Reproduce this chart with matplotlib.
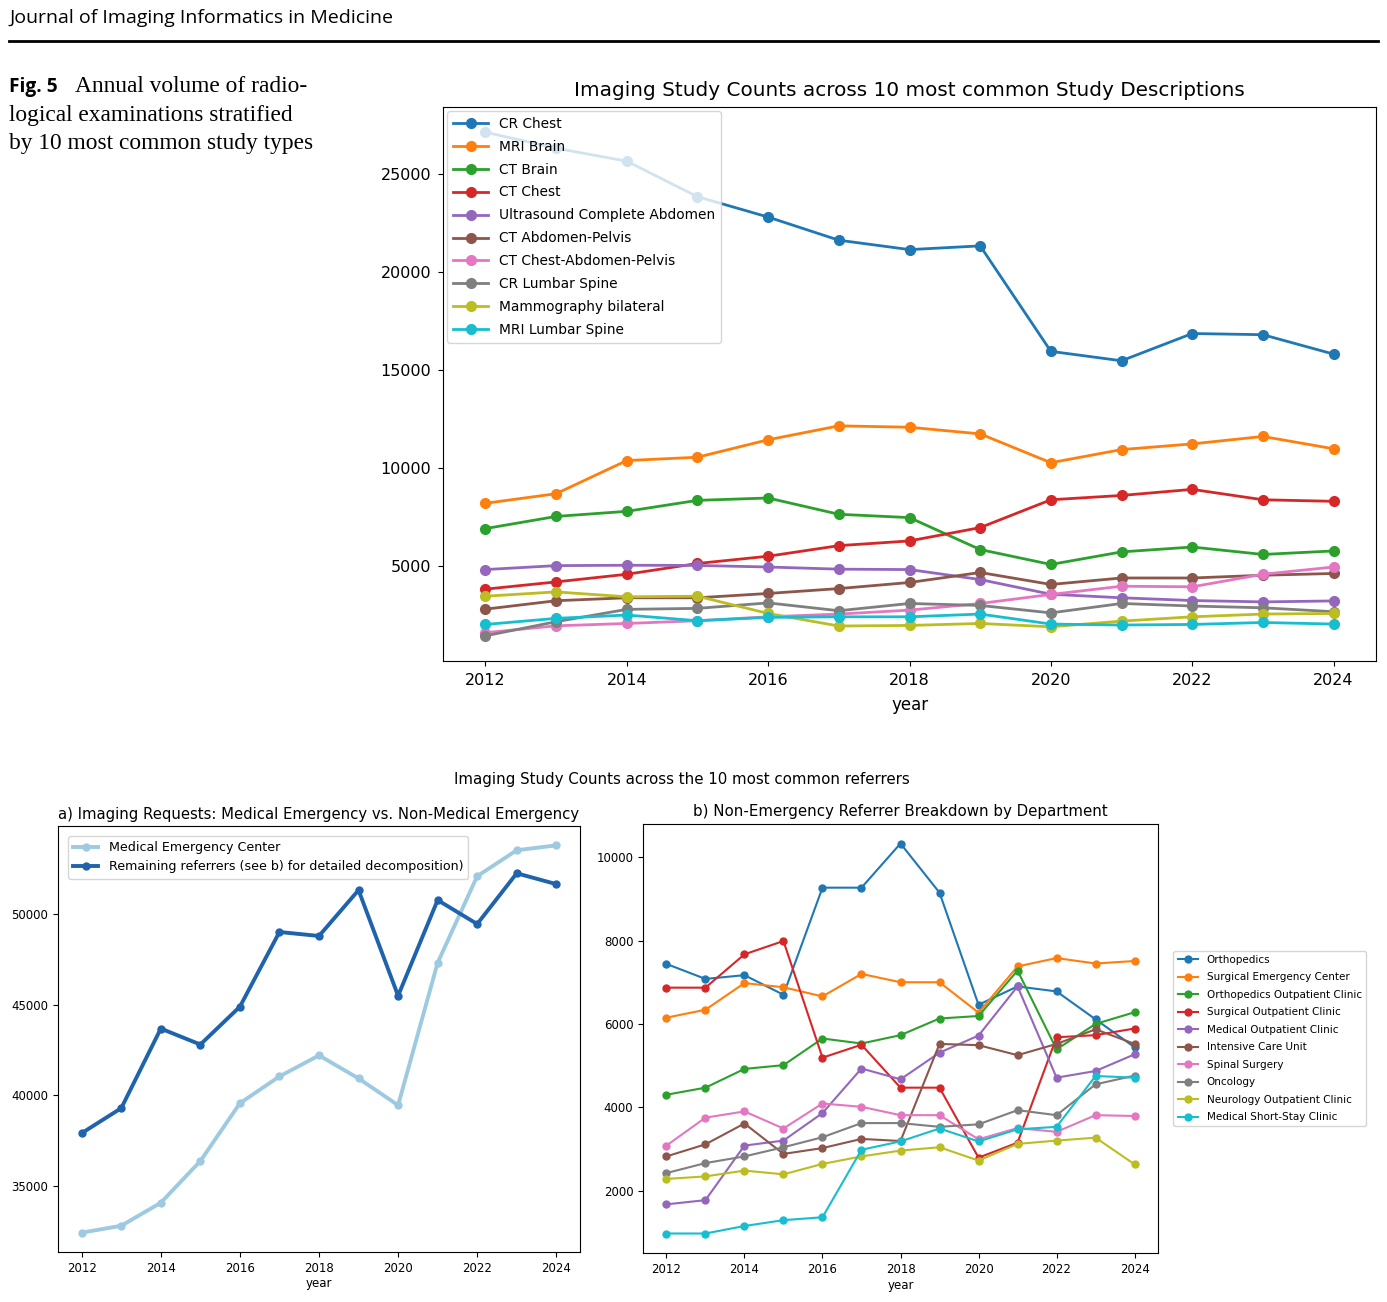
import matplotlib
matplotlib.use("Agg")
import matplotlib.pyplot as plt

plt.rcParams['font.family'] = ['DejaVu Sans']

years = list(range(2012, 2025))

# ---- Top chart: study descriptions ----
study_names = ["CR Chest", "MRI Brain", "CT Brain", "CT Chest",
               "Ultrasound Complete Abdomen", "CT Abdomen-Pelvis",
               "CT Chest-Abdomen-Pelvis", "CR Lumbar Spine",
               "Mammography bilateral", "MRI Lumbar Spine"]
cr_chest = [27140, 26320, 25660, 23850, 22810, 21630, 21150, 21340, 15960, 15480, 16870, 16810, 15820]
mri_brain = [8210, 8700, 10390, 10560, 11450, 12160, 12090, 11750, 10280, 10950, 11240, 11620, 10990]
ct_brain = [6920, 7540, 7800, 8360, 8480, 7650, 7480, 5850, 5090, 5730, 5980, 5600, 5780]
ct_chest = [3830, 4200, 4590, 5140, 5510, 6050, 6290, 6970, 8390, 8610, 8920, 8390, 8310]
us_abdomen = [4830, 5030, 5050, 5040, 4960, 4850, 4830, 4320, 3570, 3390, 3250, 3180, 3230]
ct_abd_pelvis = [2810, 3240, 3390, 3390, 3610, 3860, 4170, 4680, 4070, 4400, 4400, 4540, 4630]
ct_cap = [1610, 1960, 2080, 2220, 2420, 2560, 2760, 3100, 3560, 3980, 3950, 4590, 4960]
cr_lumbar = [1450, 2170, 2800, 2850, 3130, 2730, 3100, 3000, 2620, 3100, 2970, 2880, 2680]
mammo = [3470, 3690, 3440, 3470, 2590, 1950, 1980, 2080, 1910, 2200, 2420, 2560, 2590]
mri_lumbar = [2030, 2340, 2510, 2220, 2390, 2420, 2420, 2560, 2050, 2000, 2030, 2130, 2050]
study_series = [cr_chest, mri_brain, ct_brain, ct_chest, us_abdomen, ct_abd_pelvis,
                ct_cap, cr_lumbar, mammo, mri_lumbar]

# ---- Bottom-left: emergency vs remaining ----
med_emergency = [32420, 32800, 34070, 36370, 39560, 41040, 42200, 40930, 39450, 47310, 52090, 53520, 53790]
remaining = [37910, 39290, 43680, 42800, 44890, 49010, 48790, 51320, 45490, 50770, 49450, 52250, 51650]

# ---- Bottom-right: referrer breakdown ----
ref_names = ["Orthopedics", "Surgical Emergency Center", "Orthopedics Outpatient Clinic",
             "Surgical Outpatient Clinic", "Medical Outpatient Clinic", "Intensive Care Unit",
             "Spinal Surgery", "Oncology", "Neurology Outpatient Clinic", "Medical Short-Stay Clinic"]
orthopedics = [7440, 7080, 7170, 6700, 9270, 9270, 10330, 9150, 6460, 6900, 6780, 6110, 5440]
surg_emerg = [6150, 6340, 6980, 6880, 6660, 7200, 7000, 7000, 6270, 7380, 7580, 7450, 7510]
ortho_outp = [4300, 4470, 4920, 5010, 5650, 5530, 5730, 6130, 6190, 7280, 5390, 6000, 6280]
surg_outp = [6870, 6870, 7670, 7990, 5190, 5500, 4470, 4470, 2790, 3150, 5680, 5730, 5890]
med_outp = [1670, 1770, 3080, 3200, 3860, 4930, 4670, 5310, 5720, 6900, 4710, 4870, 5270]
icu = [2820, 3110, 3610, 2880, 3020, 3240, 3190, 5520, 5490, 5250, 5520, 5870, 5520]
spinal = [3080, 3750, 3900, 3490, 4090, 4010, 3810, 3810, 3230, 3500, 3410, 3810, 3790]
oncology = [2420, 2660, 2820, 3040, 3280, 3620, 3620, 3530, 3590, 3930, 3810, 4550, 4760]
neuro_outp = [2280, 2340, 2480, 2390, 2640, 2820, 2960, 3040, 2720, 3120, 3200, 3270, 2630]
short_stay = [970, 970, 1150, 1290, 1360, 2980, 3180, 3490, 3180, 3470, 3530, 4750, 4710]
ref_series = [orthopedics, surg_emerg, ortho_outp, surg_outp, med_outp, icu,
              spinal, oncology, neuro_outp, short_stay]

W, H = 1387, 1302
fig = plt.figure(figsize=(W / 100, H / 100), dpi=100)

def ax_rect(l, t, r, b):
    return [l / W, 1 - b / H, (r - l) / W, (b - t) / H]

# Header
fig.text(9 / W, 1 - 18 / H, "Journal of Imaging Informatics in Medicine",
         family="Open Sans", fontsize=14, va="center", ha="left")
fig.add_artist(plt.Line2D([9 / W, 1378 / W], [1 - 41 / H, 1 - 41 / H],
                          color="black", lw=2.0, transform=fig.transFigure))
# Caption
fig.text(9 / W, 1 - 87 / H, "Fig. 5", family="Open Sans", weight="bold",
         fontsize=13.8, va="center", ha="left")
fig.text(75 / W, 1 - 87 / H, "Annual volume of radio-", family="Liberation Serif",
         fontsize=16.8, va="center", ha="left")
fig.text(9 / W, 1 - 115 / H, "logical examinations stratified", family="Liberation Serif",
         fontsize=16.8, va="center", ha="left")
fig.text(9 / W, 1 - 143 / H, "by 10 most common study types", family="Liberation Serif",
         fontsize=16.8, va="center", ha="left")

# Top chart
ax1 = fig.add_axes(ax_rect(443, 107, 1376, 661))
for name, vals in zip(study_names, study_series):
    ax1.plot(years, vals, marker="o", lw=2, ms=7, label=name)
ax1.set_title("Imaging Study Counts across 10 most common Study Descriptions",
              fontsize=14.4, pad=8)
ax1.set_xlabel("year", fontsize=12, labelpad=6)
ax1.tick_params(labelsize=11.5, pad=5)
ax1.set_xticks(range(2012, 2025, 2))
ax1.legend(loc="upper left", fontsize=9.9, labelspacing=0.65, handlelength=2.6,
           borderaxespad=0.3)

# Bottom suptitle
fig.text(682 / W, 1 - 779 / H, "Imaging Study Counts across the 10 most common referrers",
         fontsize=10.8, ha="center", va="center")

# Bottom-left
ax2 = fig.add_axes(ax_rect(58, 826, 580, 1252))
ax2.plot(years, med_emergency, marker="o", lw=2.8, ms=5, color="#9ecae1",
         label="Medical Emergency Center")
ax2.plot(years, remaining, marker="o", lw=2.8, ms=5, color="#1f63ad",
         label="Remaining referrers (see b) for detailed decomposition)")
ax2.set_title("a) Imaging Requests: Medical Emergency vs. Non-Medical Emergency",
              fontsize=10.7, pad=5)
ax2.set_xlabel("year", fontsize=8.5, labelpad=2)
ax2.tick_params(labelsize=8.5)
ax2.set_xticks(range(2012, 2025, 2))
ax2.legend(loc="upper left", fontsize=9.1, borderaxespad=0.8)

# Bottom-right
ax3 = fig.add_axes(ax_rect(643, 824, 1158, 1253))
for name, vals in zip(ref_names, ref_series):
    ax3.plot(years, vals, marker="o", lw=1.5, ms=5, label=name)
ax3.set_title("b) Non-Emergency Referrer Breakdown by Department", fontsize=10.8, pad=6)
ax3.set_xlabel("year", fontsize=8.5, labelpad=2)
ax3.tick_params(labelsize=8.5)
ax3.set_xticks(range(2012, 2025, 2))
ax3.legend(loc="center left", bbox_to_anchor=(1.03, 0.5), fontsize=7.5,
           labelspacing=0.72, borderaxespad=0)

fig.savefig("out.png", dpi=100)
